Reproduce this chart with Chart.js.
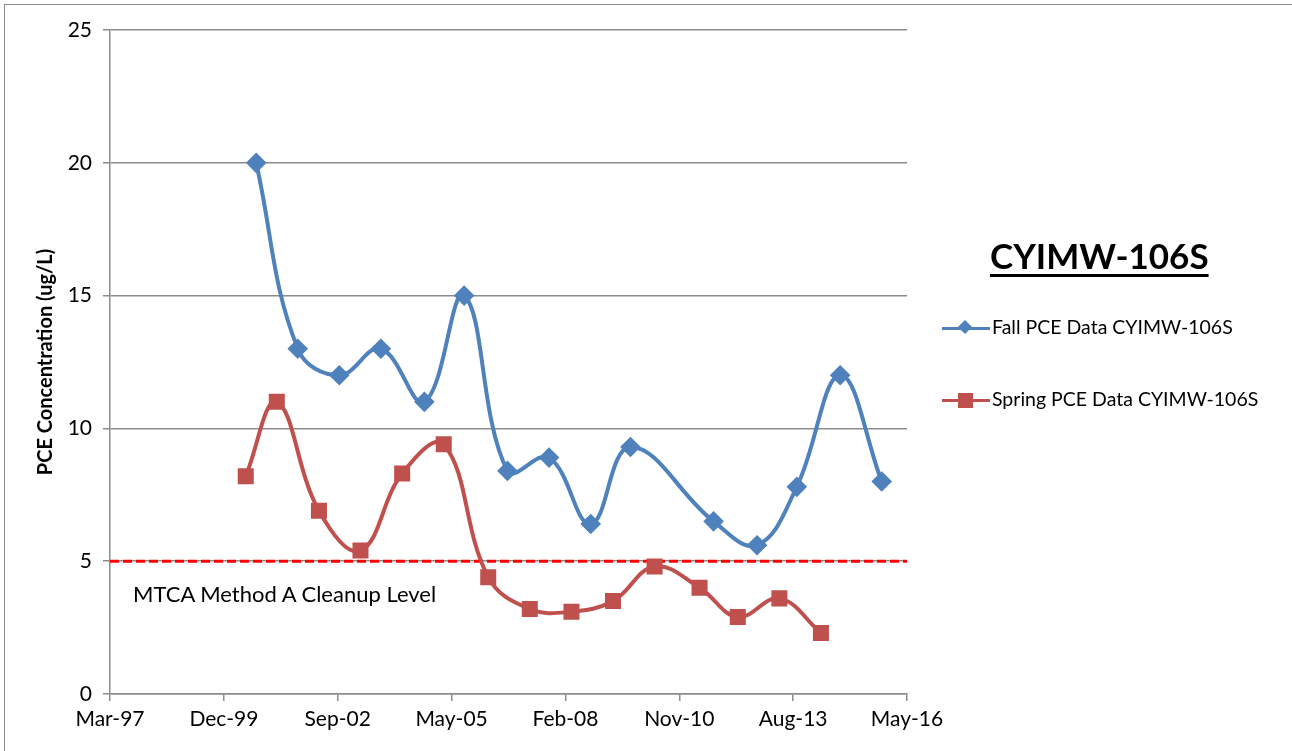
<!DOCTYPE html>
<html>
<head>
<meta charset="utf-8">
<script src="https://cdn.jsdelivr.net/npm/chart.js@4/dist/chart.umd.min.js"></script>
<style>
  body { margin: 0; background: #fff; }
  #wrap { position: relative; width: 1292px; height: 751px; font-family: Lato, "Open Sans", sans-serif; }
  #frame { position: absolute; left: 4px; top: 4px; width: 1300px; height: 800px; border-left: 1px solid #8c8c8c; border-top: 1px solid #8c8c8c; }
  #c { position: absolute; left: 0; top: 0; }
  .t { position: absolute; color: #000; white-space: nowrap; }
  #title { left: 990px; top: 234px; font-size: 35px; font-weight: bold; text-decoration: underline; text-decoration-thickness: 3px; text-underline-offset: 5px; }
  #note { left: 133px; top: 580px; font-size: 22px; }
  .leg { position: absolute; left: 942px; font-size: 19.5px; }
  .leg .ln { position: absolute; left: 0; top: 12px; width: 48px; height: 3px; }
  .leg .mk { position: absolute; }
  .leg span.lab { position: absolute; left: 50px; top: 0; white-space: nowrap; }
</style>
</head>
<body>
<div id="wrap">
  <canvas id="c" width="1292" height="751"></canvas>
  <div id="frame"></div>
  <div class="t" id="title">CYIMW-106S</div>
  <div class="t" id="note">MTCA Method A Cleanup Level</div>
  <div class="leg" style="top:315px">
    <div class="ln" style="background:#4F81BD"></div>
    <div class="mk" style="left:18px;top:7px;width:10px;height:10px;background:#4F81BD;transform:rotate(45deg)"></div>
    <span class="lab">Fall PCE Data CYIMW-106S</span>
  </div>
  <div class="leg" style="top:387px">
    <div class="ln" style="background:#C0504D"></div>
    <div class="mk" style="left:16px;top:6px;width:15px;height:15px;background:#C0504D"></div>
    <span class="lab">Spring PCE Data CYIMW-106S</span>
  </div>
</div>
<script>
// sample dates and PCE values in ug/L
const fallDates = ['2000-09-15', '2001-09-15', '2002-09-15', '2003-09-15', '2004-10-01', '2005-09-15', '2006-10-01', '2007-10-01',
    '2008-10-01', '2009-09-15', '2011-09-15', '2012-10-01', '2013-09-15', '2014-10-01', '2015-10-01'];
const fallValues = [20, 13, 12, 13, 11, 15, 8.4, 8.9, 6.4, 9.3, 6.5, 5.6, 7.8, 12, 8];

const springDates = ['2000-06-15', '2001-03-15', '2002-03-20', '2003-03-20', '2004-03-20', '2005-03-20', '2006-04-15', '2007-04-15',
    '2008-04-15', '2009-04-15', '2010-04-15', '2011-05-15', '2012-04-15', '2013-04-15', '2014-04-15'];
const springValues = [8.2, 11, 6.9, 5.4, 8.3, 9.4, 4.4, 3.2, 3.1, 3.5, 4.8, 4.0, 2.9, 3.6, 2.3];

const cleanupLevel = 5;

// x axis in excel-style day numbers
const xMin = 35500;
const xMax = 42500;
const xStep = 1000;
const yMax = 25;
const yStep = 5;

const months = ['Jan', 'Feb', 'Mar', 'Apr', 'May', 'Jun', 'Jul', 'Aug', 'Sep', 'Oct', 'Nov', 'Dec'];
const base = Date.UTC(1899, 11, 30);

function toSerial(s) {
    const p = s.split('-');
    return (Date.UTC(+p[0], +p[1] - 1, +p[2]) - base) / 86400000;
}

function serialLabel(v) {
    const d = new Date(base + v * 86400000);
    return months[d.getUTCMonth()] + '-' + String(d.getUTCFullYear()).slice(2);
}

function pts(dates, vals) {
    return dates.map((d, i) => ({ x: toSerial(d), y: vals[i] }));
}

const ctx = document.getElementById('c');

new Chart(ctx, {
    type: 'line',
    data: {
        datasets: [
            {
                label: 'Fall PCE Data CYIMW-106S',
                data: pts(fallDates, fallValues),
                borderColor: '#4F81BD',
                backgroundColor: '#4F81BD',
                borderWidth: 4,
                pointStyle: 'rectRot',
                pointRadius: 7.5,
                tension: 0.4
            },
            {
                label: 'Spring PCE Data CYIMW-106S',
                data: pts(springDates, springValues),
                borderColor: '#C0504D',
                backgroundColor: '#C0504D',
                borderWidth: 4,
                pointStyle: 'rect',
                pointRadius: 8.5,
                tension: 0.4
            },
            {
                label: 'MTCA Method A Cleanup Level',
                data: [{ x: xMin, y: cleanupLevel }, { x: xMax, y: cleanupLevel }],
                borderColor: '#FF0000',
                borderWidth: 3,
                borderDash: [9, 4],
                pointRadius: 0,
                tension: 0
            }
        ]
    },
    options: {
        responsive: false,
        animation: false,
        layout: { padding: { left: 0, right: 385, top: 30, bottom: 0 } },
        plugins: {
            legend: { display: false },
            tooltip: { enabled: false }
        },
        scales: {
            x: {
                type: 'linear',
                min: xMin,
                max: xMax,
                afterBuildTicks: (axis) => {
                    axis.ticks = [];
                    for (let v = xMin; v <= xMax; v += xStep) axis.ticks.push({ value: v });
                },
                afterFit: (axis) => { axis.height = 57; },
                grid: { drawOnChartArea: false, drawTicks: true, tickLength: 7, color: '#8c8c8c', lineWidth: 1.5 },
                border: { color: '#8c8c8c', width: 1.5 },
                ticks: {
                    callback: (v) => serialLabel(v),
                    color: '#000',
                    font: { family: 'Lato', size: 21 },
                    maxRotation: 0,
                    autoSkip: false,
                    padding: 6
                }
            },
            y: {
                min: 0,
                max: yMax,
                afterFit: (axis) => { axis.width = 110; },
                grid: { color: '#8c8c8c', lineWidth: 1.5, tickLength: 7 },
                border: { color: '#8c8c8c', width: 1.5 },
                ticks: {
                    stepSize: yStep,
                    color: '#000',
                    font: { family: 'Lato', size: 21 },
                    padding: 11
                },
                title: {
                    display: true,
                    text: 'PCE Concentration (ug/L)',
                    color: '#000',
                    font: { family: 'Lato', size: 20, weight: 'bold' },
                    padding: { top: 34, bottom: 4 }
                }
            }
        }
    }
});
</script>
</body>
</html>
